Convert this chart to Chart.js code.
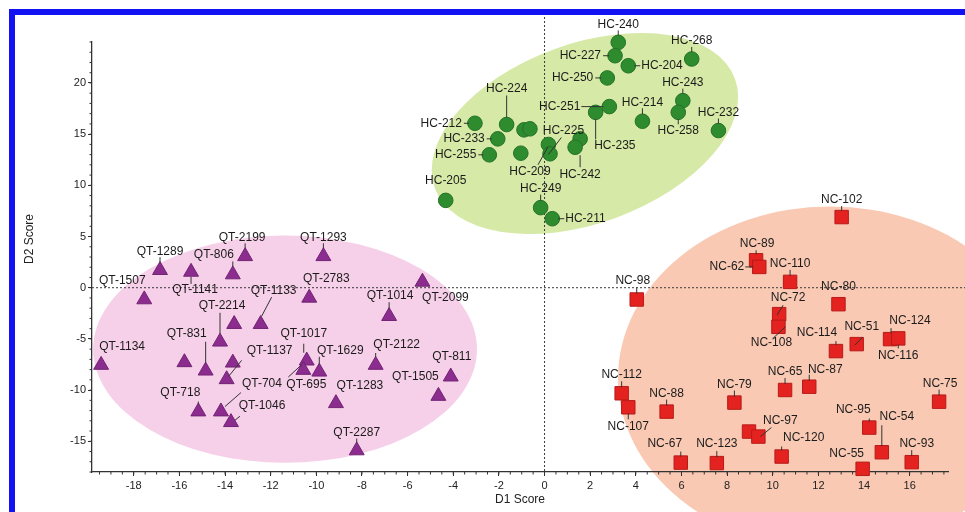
<!DOCTYPE html>
<html>
<head>
<meta charset="utf-8">
<script src="https://cdn.jsdelivr.net/npm/chart.js@4.4.1/dist/chart.umd.min.js"></script>
<style>
	html, body { margin: 0; padding: 0; background: #fff; }
	#wrap { position: relative; width: 965px; height: 512px; overflow: hidden; }
	#chart { position: absolute; left: 0; top: 0; }
	.frame { position: absolute; background: #1212f2; }
</style>
</head>
<body>
<div id="wrap">
	<canvas id="chart" width="965" height="512"></canvas>
	<div class="frame" style="left:9px;top:9px;width:956px;height:6px"></div>
	<div class="frame" style="left:9px;top:9px;width:6px;height:503px"></div>
</div>
<script>
// HC group (circles)
const hcNames = ['HC-240','HC-227','HC-204','HC-268','HC-250','HC-243','HC-258','HC-214','HC-232','HC-251','HC-235','HC-212','HC-224','HC-233','HC-255','','','','HC-225','HC-209','','HC-242','HC-205','HC-249','HC-211']
const hcX = [3.23,3.09,3.67,6.45,2.75,6.06,5.86,4.29,7.62,2.84,2.24,-3.05,-1.66,-2.05,-2.42,-0.90,-0.64,-1.04,0.17,0.24,1.56,1.34,-4.33,-0.17,0.34]
const hcY = [23.96,22.66,21.68,22.34,20.49,18.27,17.13,16.26,15.35,17.69,17.13,16.06,15.94,14.54,12.98,15.42,15.52,13.14,13.99,13.08,14.54,13.72,8.53,7.82,6.74]

// QT group (triangles)
const qtNames = ['QT-2199','QT-1293','QT-1289','QT-1141','QT-806','QT-1507','QT-2099','QT-2783','QT-1014','','QT-1133','QT-2214','','QT-831','QT-1134','','QT-1137','QT-1017','QT-695','QT-1629','QT-2122','QT-811','QT-1505','QT-1283','QT-718','QT-704','QT-1046','QT-2287']
const qtX = [-13.12,-9.69,-16.85,-15.49,-13.66,-17.54,-5.35,-10.31,-6.81,-13.60,-12.44,-14.22,-15.78,-14.85,-19.43,-13.66,-13.93,-10.42,-10.57,-9.87,-7.40,-4.11,-4.65,-9.14,-15.17,-14.18,-13.74,-8.23]
const qtY = [3.07,3.07,1.71,1.54,1.29,-1.15,0.57,-0.99,-2.78,-3.56,-3.56,-5.28,-7.29,-8.11,-7.55,-7.33,-8.95,-7.13,-8.04,-8.21,-7.55,-8.69,-10.58,-11.29,-12.10,-12.10,-13.14,-15.90]

// NC group (squares)
const ncNames = ['NC-102','NC-89','NC-62','NC-110','NC-98','NC-80','NC-72','NC-108','NC-124','NC-116','NC-51','NC-114','NC-87','NC-65','NC-75','NC-112','NC-107','NC-88','NC-79','','NC-97','NC-95','NC-54','NC-120','NC-93','NC-55','NC-67','NC-123']
const ncX = [13.02,9.27,9.41,10.76,4.04,12.88,10.28,10.25,15.14,15.50,13.68,12.77,11.60,10.54,17.29,3.38,3.67,5.35,8.32,8.96,9.37,14.23,14.78,10.39,16.09,13.94,5.97,7.55]
const ncY = [6.90,2.68,2.03,0.57,-1.15,-1.61,-2.58,-3.82,-5.02,-4.95,-5.51,-6.19,-9.67,-9.99,-11.13,-10.31,-11.68,-12.10,-11.22,-14.05,-14.54,-13.66,-16.07,-16.49,-17.04,-17.69,-17.08,-17.13]

// axis ranges
const xMin = -19.83, xMax = 17.68
const yMin = -18, yMax = 24

// group regions (centre and semi axes in data units)
const regions = [
	{ cx: 1.77, cy: 15.06, rx: 7.0, ry: 8.77, angle: -20, color: '#d6e9a6' },
	{ cx: -11.37, cy: -6.0, rx: 8.41, ry: 11.1, angle: 0, color: '#f6cfe8' },
	{ cx: 12.51, cy: -8.82, rx: 9.29, ry: 16.76, angle: 0, color: '#f9c9b3' },
]

// label placement: [dx, dy, align, leader line [x1,y1,x2,y2]] in px from the marker
const labelLayout = {
	'HC-240': [0, -18, 'center', [0, -12, 0, -7]],
	'HC-227': [-14, 0, 'right', [-12, 0, -6, 0]],
	'HC-204': [13, 0, 'left', [6, 0, 12, 0]],
	'HC-268': [0, -18, 'center', [0, -12, 0, -7]],
	'HC-250': [-14, 0, 'right', [-12, 0, -6, 0]],
	'HC-243': [0, -18, 'center', [0, -12, 0, -7]],
	'HC-258': [0, 18, 'center', [0, 7, 0, 12]],
	'HC-214': [0, -19, 'center', [0, -13, 0, -7]],
	'HC-232': [0, -18, 'center', [0, -12, 0, -7]],
	'HC-251': [-29, 0, 'right', [-28, 0, -6, 0]],
	'HC-235': [-1.5, 33, 'left', [0, 7, 0, 27]],
	'HC-212': [-13, 0, 'right', [-11, 0, -6, 0]],
	'HC-224': [0, -36, 'center', [0, -29, 0, -7]],
	'HC-233': [-13, 0, 'right', [-11, 0, -6, 0]],
	'HC-255': [-13, 0, 'right', [-11, 0, -6, 0]],
	'HC-225': [15, -14, 'center', [13, -7, 0, 10]],
	'HC-209': [-20, 18, 'center', [-12, 11, -2, -7]],
	'HC-242': [5, 27, 'center', [5, 8, 5, 20]],
	'HC-205': [0, -20, 'center', null],
	'HC-249': [0, -19, 'center', [0, -13, 0, -7]],
	'HC-211': [13, 0, 'left', [6, 0, 12, 0]],

	'QT-2199': [-3, -19, 'center', [0, -13, 0, -8]],
	'QT-1293': [0, -19, 'center', [0, -13, 0, -8]],
	'QT-1289': [0, -19, 'center', [0, -13, 0, -8]],
	'QT-1141': [4, 18, 'center', [0, 5, 0, 12]],
	'QT-806': [-19, -20, 'center', [0, -13, 0, -8]],
	'QT-1507': [-22, -19, 'center', null],
	'QT-2099': [23, 16, 'center', null],
	'QT-2783': [17, -19, 'center', null],
	'QT-1014': [1, -20, 'center', [0, -14, 0, -8]],
	'QT-1133': [13, -33, 'center', [11, -27, 1, -8]],
	'QT-2214': [2, -36, 'center', [0, -29, 0, -8]],
	'QT-831': [-19, -37, 'center', [0, -29, 0, -8]],
	'QT-1134': [21, -18, 'center', null],
	'QT-1137': [43, -29, 'center', [15, -19, 2, -3]],
	'QT-1017': [-3, -27, 'center', [-3, -17, -3, -8]],
	'QT-695': [3, 15, 'center', [-15, 7, -2, -5]],
	'QT-1629': [21, -21, 'center', [0, -15, 0, -8]],
	'QT-2122': [21, -20, 'center', [0, -12, 0, -8]],
	'QT-811': [1, -20, 'center', null],
	'QT-1505': [-23, -19, 'center', null],
	'QT-1283': [24, -18, 'center', null],
	'QT-718': [-18, -19, 'center', [0, -10, 0, -8]],
	'QT-704': [41, -28, 'center', [20, -19, 4, -5]],
	'QT-1046': [31, -17, 'center', [9, -6, 4, -2]],
	'QT-2287': [0, -18, 'center', [0, -12, 0, -8]],

	'NC-102': [0, -17, 'center', [0, -11, 0, -6]],
	'NC-89': [1, -17, 'center', [0, -10, 0, -6]],
	'NC-62': [-15, 0, 'right', [-14, 0, -6, 0]],
	'NC-110': [0, -18, 'center', [0, -12, 0, -6]],
	'NC-98': [-4, -19, 'center', [0, -12, 0, -6]],
	'NC-80': [0, -18, 'center', null],
	'NC-72': [9, -16, 'center', [4, -9, -2, 1]],
	'NC-108': [-7, 16, 'center', [-6, 12, 7, 0]],
	'NC-124': [20, -18, 'center', [1, -11, 1, -6]],
	'NC-116': [0, 17, 'center', [0, 6, 0, 10]],
	'NC-51': [5, -17, 'center', [6, -7, -2, 1]],
	'NC-114': [-19, -18, 'center', [0, -10, 0, -6]],
	'NC-87': [16, -17, 'center', [0, -12, 0, -6]],
	'NC-65': [0, -18, 'center', [0, -12, 0, -6]],
	'NC-75': [1, -18, 'center', [0, -12, 0, -6]],
	'NC-112': [0, -19, 'center', [0, -12, 0, -6]],
	'NC-107': [0, 19, 'center', [0, 6, 0, 12]],
	'NC-88': [0, -18, 'center', [0, -12, 0, -6]],
	'NC-79': [0, -18, 'center', [0, -12, 0, -6]],
	'NC-97': [22, -16, 'center', [13, -9, 2, 0]],
	'NC-95': [-16, -18, 'center', [0, -9, 0, -6]],
	'NC-54': [15, -36, 'center', [0, -27, 0, -6]],
	'NC-120': [22, -19, 'center', [0, -10, 0, -6]],
	'NC-93': [5, -18, 'center', [0, -12, 0, -6]],
	'NC-55': [-16, -15, 'center', null],
	'NC-67': [-16, -19, 'center', [0, -11, 0, -6]],
	'NC-123': [0, -19, 'center', [0, -12, 0, -6]],
}

const toPoints = (xs, ys) => xs.map((x, i) => ({ x: x, y: ys[i] }))
const fontFamily = '"Liberation Sans", Arial, Helvetica, sans-serif'
Chart.defaults.font.family = fontFamily

// ellipses, zero lines and minor ticks
const backdrop = {
	id: 'backdrop',
	beforeDraw(chart) {
		const { ctx, scales: { x, y } } = chart
		ctx.save()
		regions.forEach((r) => {
			const cx = x.getPixelForValue(r.cx)
			const cy = y.getPixelForValue(r.cy)
			const rx = Math.abs(x.getPixelForValue(r.cx + r.rx) - cx)
			const ry = Math.abs(y.getPixelForValue(r.cy + r.ry) - cy)
			ctx.beginPath()
			ctx.ellipse(cx, cy, rx, ry, (r.angle * Math.PI) / 180, 0, Math.PI * 2)
			ctx.fillStyle = r.color
			ctx.fill()
		})
		ctx.restore()
	},
	beforeDatasetsDraw(chart) {
		const { ctx, chartArea, scales: { x, y } } = chart
		ctx.save()
		ctx.strokeStyle = '#3a3a3a'
		ctx.lineWidth = 1
		ctx.setLineDash([2, 2])
		const x0 = x.getPixelForValue(0)
		const y0 = y.getPixelForValue(0)
		ctx.beginPath()
		ctx.moveTo(x0, 17)
		ctx.lineTo(x0, chartArea.bottom)
		ctx.moveTo(chartArea.left, y0)
		ctx.lineTo(chart.width, y0)
		ctx.stroke()
		ctx.setLineDash([])
		ctx.strokeStyle = '#333'
		ctx.beginPath()
		for (let v = Math.ceil(xMin * 2) / 2; v <= xMax; v += 0.5) {
			const px = x.getPixelForValue(v)
			ctx.moveTo(px, chartArea.bottom)
			ctx.lineTo(px, chartArea.bottom + 2.5)
		}
		for (let v = Math.ceil(yMin); v <= yMax; v += 1) {
			const py = y.getPixelForValue(v)
			ctx.moveTo(chartArea.left, py)
			ctx.lineTo(chartArea.left - 2.5, py)
		}
		ctx.stroke()
		ctx.restore()
	},
	afterDraw(chart) {
		const { ctx } = chart
		ctx.save()
		ctx.translate(30, 239)
		ctx.rotate(-Math.PI / 2)
		ctx.font = '12px ' + fontFamily
		ctx.fillStyle = '#222'
		ctx.textAlign = 'center'
		ctx.textBaseline = 'middle'
		ctx.fillText('D2 Score', 0, 0)
		ctx.restore()
	},
}

// sample names with leader lines
const pointLabels = {
	id: 'pointLabels',
	afterDatasetsDraw(chart) {
		const ctx = chart.ctx
		ctx.save()
		ctx.font = '12px ' + fontFamily
		ctx.fillStyle = '#1b1b1b'
		ctx.strokeStyle = '#333'
		ctx.lineWidth = 1
		ctx.textBaseline = 'middle'
		chart.data.datasets.forEach((ds, i) => {
			const meta = chart.getDatasetMeta(i)
			ds.names.forEach((name, j) => {
				const spec = labelLayout[name]
				if (!name || !spec) return
				const p = meta.data[j]
				const [dx, dy, align, line] = spec
				if (line) {
					ctx.beginPath()
					ctx.moveTo(p.x + line[0], p.y + line[1])
					ctx.lineTo(p.x + line[2], p.y + line[3])
					ctx.stroke()
				}
				ctx.textAlign = align
				ctx.fillText(name, p.x + dx, p.y + dy)
			})
		})
		ctx.restore()
	},
}

const tickFont = { size: 11 }

new Chart(document.getElementById('chart'), {
	type: 'scatter',
	data: {
		datasets: [
			{
				label: 'HC',
				names: hcNames,
				data: toPoints(hcX, hcY),
				pointStyle: 'circle',
				pointRadius: 7.3,
				backgroundColor: '#2e8b2e',
				borderColor: '#25722a',
				borderWidth: 1,
				clip: false,
			},
			{
				label: 'QT',
				names: qtNames,
				data: toPoints(qtX, qtY),
				pointStyle: 'triangle',
				pointRadius: 8.6,
				backgroundColor: '#8b2c8e',
				borderColor: '#722474',
				borderWidth: 1,
				clip: false,
			},
			{
				label: 'NC',
				names: ncNames,
				data: toPoints(ncX, ncY),
				pointStyle: 'rect',
				pointRadius: 9.5,
				backgroundColor: '#e42320',
				borderColor: '#b81a18',
				borderWidth: 1,
				clip: false,
			},
		],
	},
	options: {
		responsive: false,
		animation: false,
		events: [],
		layout: { padding: { top: 42, right: 17, left: 0, bottom: 0 } },
		plugins: {
			legend: { display: false },
			tooltip: { enabled: false },
		},
		scales: {
			x: {
				type: 'linear',
				min: xMin,
				max: xMax,
				afterFit: (s) => { s.height = 40 },
				ticks: { stepSize: 2, includeBounds: false, padding: 3, font: tickFont, color: '#222' },
				grid: { drawOnChartArea: false, tickLength: 4, color: '#333' },
				border: { color: '#333', width: 1.3 },
				title: { display: true, text: 'D1 Score', font: { size: 12 }, color: '#222', padding: { top: 0, bottom: 5 } },
			},
			y: {
				type: 'linear',
				min: yMin,
				max: yMax,
				afterFit: (s) => { s.width = 92 },
				ticks: { stepSize: 5, includeBounds: false, padding: 2, font: tickFont, color: '#222' },
				grid: { drawOnChartArea: false, tickLength: 4, color: '#333' },
				border: { color: '#333', width: 1.3 },
			},
		},
	},
	plugins: [backdrop, pointLabels],
})
</script>
</body>
</html>
